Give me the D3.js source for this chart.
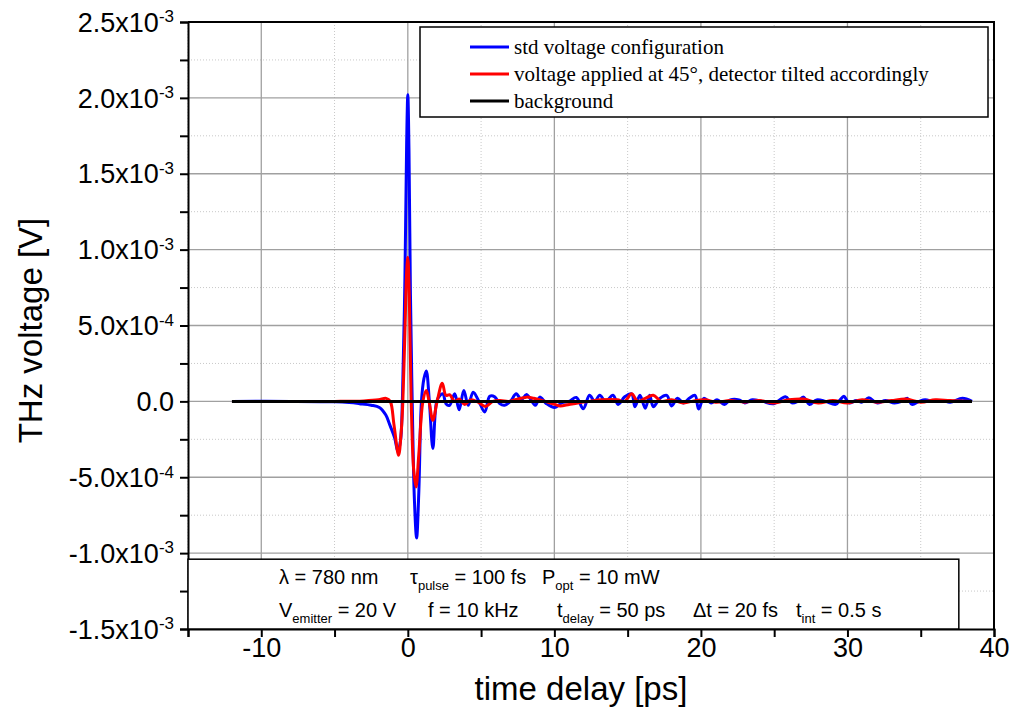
<!DOCTYPE html>
<html>
<head>
<meta charset="utf-8">
<script src="https://cdn.jsdelivr.net/npm/d3@7"></script>
<style>
body { margin: 0; background: #fff; }
svg text { font-family: "Liberation Sans", Arial, sans-serif; fill: #000; }
.legend-text { font-family: "Liberation Serif", "Times New Roman", serif !important; }
</style>
</head>
<body>
<div id="chart"></div>
<script>
// ---- data (time in ps, THz voltage in mV = 1e-3 V) ----
var xTickValues = [-10, 0, 10, 20, 30, 40];
var yTickValues = [-1.5e-3, -1.0e-3, -5.0e-4, 0, 5.0e-4, 1.0e-3, 1.5e-3, 2.0e-3, 2.5e-3];
var yTickMantissa = ['-1.5', '-1.0', '-5.0', '0.0', '5.0', '1.0', '1.5', '2.0', '2.5'];
var yTickExponent = ['-3', '-3', '-4', '', '-4', '-3', '-3', '-3', '-3'];

var seriesNames = ['std voltage configuration',
	'voltage applied at 45\u00b0, detector tilted accordingly',
	'background'];
var seriesColors = ['#0000ff', '#ff0000', '#000000'];

var stdVoltage = [
	[-12, 0], [-8, 0], [-5, -0.003], [-4, -0.008], [-3.3, -0.015], [-2.5, -0.025],
	[-1.94, -0.04], [-1.5, -0.09], [-1.25, -0.15], [-0.9, -0.24], [-0.68, -0.33],
	[-0.5, -0.26], [-0.36, 0.05], [-0.2, 0.8], [-0.08, 1.7], [0, 2.02], [0.08, 1.65],
	[0.18, 0.7], [0.3, 0.0], [0.45, -0.65], [0.6, -0.9], [0.75, -0.6], [0.93, 0.0],
	[1.1, 0.15], [1.26, 0.2], [1.47, 0.0], [1.71, -0.31], [1.97, 0.0], [2.2, 0.04],
	[2.4, 0.05], [2.6, -0.015], [2.85, -0.026], [3.2, 0.05], [3.5, -0.055], [3.82, 0.072],
	[4.12, -0.026], [4.46, 0.06], [4.85, 0.0], [5.25, -0.07], [5.59, 0.033], [5.93, 0.03],
	[6.27, -0.015], [6.6, -0.026], [7.0, 0.0], [7.4, 0.05], [7.75, 0.01], [8.1, 0.046],
	[8.7, -0.026], [9.0, 0.028], [9.46, -0.015], [10.03, -0.04], [10.5, -0.01], [11.0, 0.0],
	[11.5, 0.026], [11.97, -0.048], [12.4, 0.04], [12.75, 0.0], [13.1, 0.04], [13.5, 0.0],
	[14.0, 0.04], [14.35, -0.02], [14.8, 0.03], [15.27, 0.05], [15.5, -0.035], [15.84, 0.04],
	[16.2, -0.045], [16.5, 0.04], [16.75, -0.035], [17.2, 0.02], [17.67, 0.04], [18.0, -0.03],
	[18.4, 0.02], [18.8, -0.01], [19.2, 0.02], [19.6, 0.04], [19.84, -0.05], [20.2, 0.02],
	[20.7, -0.01], [21.1, 0.01], [21.6, -0.02], [22.0, 0.01], [22.6, 0.01], [23.0, -0.01],
	[23.5, 0.01], [24.2, 0.0], [24.97, -0.015], [25.77, 0.03], [26.2, -0.01], [26.6, 0.0],
	[27.0, 0.028], [27.4, -0.02], [27.9, 0.01], [28.5, 0.0], [29.2, -0.02], [29.5, 0.01],
	[29.76, 0.033], [30.1, -0.01], [30.6, 0.005], [31.0, -0.005], [31.46, 0.024], [32.0, -0.01],
	[32.6, 0.005], [33.2, -0.01], [33.7, 0.0], [34.1, 0.02], [34.4, -0.02], [34.9, 0.0],
	[35.3, 0.01], [35.9, 0.0], [36.5, 0.005], [37.0, -0.005], [37.85, 0.02], [38.5, 0.0]
];

var tilted45 = [
	[-12, 0], [-5, 0], [-3, 0.003], [-2, 0.01], [-1.48, 0.02], [-1.2, 0.0], [-0.95, -0.15],
	[-0.63, -0.355], [-0.45, -0.2], [-0.34, 0.0], [-0.2, 0.45], [-0.08, 0.85], [0, 0.95],
	[0.1, 0.7], [0.23, 0.0], [0.4, -0.45], [0.56, -0.564], [0.75, -0.35], [1.03, 0.0],
	[1.26, 0.072], [1.45, 0.0], [1.71, -0.125], [2.0, 0.0], [2.35, 0.12], [2.6, 0.04],
	[2.85, 0.044], [3.2, 0.0], [3.5, 0.015], [3.88, -0.02], [4.3, 0.01], [4.8, -0.005],
	[5.3, -0.033], [5.8, 0.0], [6.3, 0.005], [6.9, 0.0], [7.4, 0.013], [8.1, 0.028],
	[8.6, 0.02], [9.2, 0.005], [10.03, -0.02], [10.4, -0.03], [11.0, -0.02], [11.6, -0.01],
	[12.4, 0.0], [13.2, 0.01], [14.3, 0.01], [14.8, 0.0], [15.27, 0.05], [15.7, 0.0],
	[16.2, 0.02], [16.75, 0.04], [17.3, 0.0], [18.0, 0.01], [18.8, -0.01], [19.6, 0.005],
	[20.3, 0.01], [21.0, -0.005], [22.0, 0.005], [23.0, -0.005], [24.0, 0.005], [25.0, -0.01],
	[26.0, 0.01], [27.0, 0.015], [28.0, -0.01], [29.0, 0.005], [30.0, -0.01], [31.0, 0.01],
	[32.0, -0.005], [33.0, 0.005], [34.0, 0.015], [35.0, -0.005], [36.0, 0.01], [37.0, 0.005],
	[38.5, 0.0]
];

var background = [[-12, 0], [38.5, 0]];

var svgWidth = 1013,
	svgHeight = 710;

var margin = {t: 22, r: 19, b: 81, l: 188};

var width = svgWidth - margin.l - margin.r,
	height = svgHeight - margin.t - margin.b;

var svg = d3.select('#chart')
	.append('svg')
	.attr('width', svgWidth)
	.attr('height', svgHeight);

var chartGroup = svg.append('g')
	.attr('transform', `translate(${margin.l},${margin.t})`);

var xScale = d3.scaleLinear().domain([-15, 40]).range([0, width]);
var yScale = d3.scaleLinear().domain([-1.5e-3, 2.5e-3]).range([height, 0]);

// grid: minor dotted, major solid
var xMinor = d3.range(-15, 41, 5).filter(v => v % 10 !== 0);
var yMinor = d3.range(-1.25e-3, 2.5e-3, 0.5e-3);

chartGroup.append('g').selectAll('line')
	.data(xMinor).enter().append('line')
	.attr('x1', d => xScale(d)).attr('x2', d => xScale(d))
	.attr('y1', 0).attr('y2', height)
	.attr('stroke', '#c8c8c8').attr('stroke-dasharray', '1,2');
chartGroup.append('g').selectAll('line')
	.data(yMinor).enter().append('line')
	.attr('x1', 0).attr('x2', width)
	.attr('y1', d => yScale(d)).attr('y2', d => yScale(d))
	.attr('stroke', '#c8c8c8').attr('stroke-dasharray', '1,2');
chartGroup.append('g').selectAll('line')
	.data(xTickValues.filter(v => v > -15 && v < 40)).enter().append('line')
	.attr('x1', d => xScale(d)).attr('x2', d => xScale(d))
	.attr('y1', 0).attr('y2', height)
	.attr('stroke', '#a0a0a0').attr('stroke-width', 1.3);
chartGroup.append('g').selectAll('line')
	.data(yTickValues.slice(1, -1)).enter().append('line')
	.attr('x1', 0).attr('x2', width)
	.attr('y1', d => yScale(d)).attr('y2', d => yScale(d))
	.attr('stroke', '#a0a0a0').attr('stroke-width', 1.3);

// curves
var line = d3.line()
	.x(d => xScale(d[0]))
	.y(d => yScale(d[1] * 1e-3))
	.curve(d3.curveCatmullRom.alpha(0.5));

var allSeries = [stdVoltage, tilted45, background];
allSeries.forEach((s, i) => {
	chartGroup.append('path')
		.datum(s)
		.attr('d', line)
		.attr('fill', 'none')
		.attr('stroke', seriesColors[i])
		.attr('stroke-width', 3)
		.attr('stroke-linejoin', 'round');
});

// frame (top, right)
chartGroup.append('path')
	.attr('d', `M0,0H${width}V${height}`)
	.attr('fill', 'none').attr('stroke', '#000').attr('stroke-width', 2);

// axes
var xAxis = d3.axisBottom(xScale)
	.tickValues(d3.range(-15, 41, 5))
	.tickSize(8).tickPadding(2)
	.tickFormat(d => xTickValues.indexOf(d) >= 0 ? d : '');
var xAxisG = chartGroup.append('g')
	.attr('transform', `translate(0,${height})`)
	.call(xAxis);
xAxisG.select('.domain').attr('stroke-width', 2);
xAxisG.selectAll('.tick line').attr('stroke-width', 2);
xAxisG.selectAll('.tick text')
	.style('font-size', '27px')
	.attr('dy', '0.68em');

var yAxis = d3.axisLeft(yScale)
	.tickValues(d3.range(-1.5e-3, 2.51e-3, 0.25e-3))
	.tickSize(8)
	.tickFormat('');
var yAxisG = chartGroup.append('g').call(yAxis);
yAxisG.select('.domain').attr('stroke-width', 2);
yAxisG.selectAll('.tick line').attr('stroke-width', 2);

var yLabels = chartGroup.append('g').selectAll('text')
	.data(yTickValues).enter().append('text')
	.attr('x', -14)
	.attr('y', d => yScale(d))
	.attr('dy', '0.36em')
	.attr('text-anchor', 'end')
	.style('font-size', '27px');
yLabels.append('tspan')
	.text((d, i) => yTickExponent[i] ? yTickMantissa[i] + 'x10' : yTickMantissa[i]);
yLabels.append('tspan')
	.attr('dy', '-0.55em')
	.style('font-size', '17px')
	.text((d, i) => yTickExponent[i]);

// axis titles
chartGroup.append('text')
	.attr('transform', `translate(${-margin.l + 42},${height / 2 + 5})rotate(-90)`)
	.attr('text-anchor', 'middle')
	.style('font-size', '33px')
	.text('THz voltage [V]');

chartGroup.append('text')
	.attr('x', width / 2 - 10)
	.attr('y', height + 71)
	.attr('text-anchor', 'middle')
	.style('font-size', '33px')
	.text('time delay [ps]');

// legend
var legend = chartGroup.append('g')
	.attr('transform', 'translate(232,5)');
legend.append('rect')
	.attr('width', 568).attr('height', 90)
	.attr('fill', '#fff').attr('stroke', '#000').attr('stroke-width', 1.5);
seriesNames.forEach((name, i) => {
	var row = legend.append('g').attr('transform', `translate(0,${20 + i * 27})`);
	row.append('line')
		.attr('x1', 50).attr('x2', 89)
		.attr('stroke', seriesColors[i]).attr('stroke-width', 3);
	row.append('text')
		.attr('class', 'legend-text')
		.attr('x', 94).attr('dy', '0.35em')
		.style('font-size', '21px')
		.text(name);
});

// parameter inset
var inset = chartGroup.append('g')
	.attr('transform', `translate(0,${yScale(-1.04e-3)})`);
inset.append('rect')
	.attr('width', xScale(37.6)).attr('height', height - yScale(-1.04e-3))
	.attr('fill', '#fff').attr('stroke', '#000').attr('stroke-width', 1.5);

var insetRows = [
	[[91, 'λ = 780 nm'], [222, 'τ', 'pulse', ' = 100 fs'], [354, 'P', 'opt', ' = 10 mW']],
	[[91, 'V', 'emitter', ' = 20 V'], [240, 'f = 10 kHz'], [369, 't', 'delay', ' = 50 ps'],
	 [505, 'Δt = 20 fs'], [608, 't', 'int', ' = 0.5 s']]
];
insetRows.forEach((row, r) => {
	row.forEach(item => {
		var t = inset.append('text')
			.attr('x', item[0])
			.attr('y', 25 + r * 33)
			.style('font-size', '20px');
		t.append('tspan').text(item[1]);
		if (item.length > 2) {
			t.append('tspan').attr('dy', 6).style('font-size', '13px').text(item[2]);
			t.append('tspan').attr('dy', -6).text(item[3]);
		}
	});
});
</script>
</body>
</html>
